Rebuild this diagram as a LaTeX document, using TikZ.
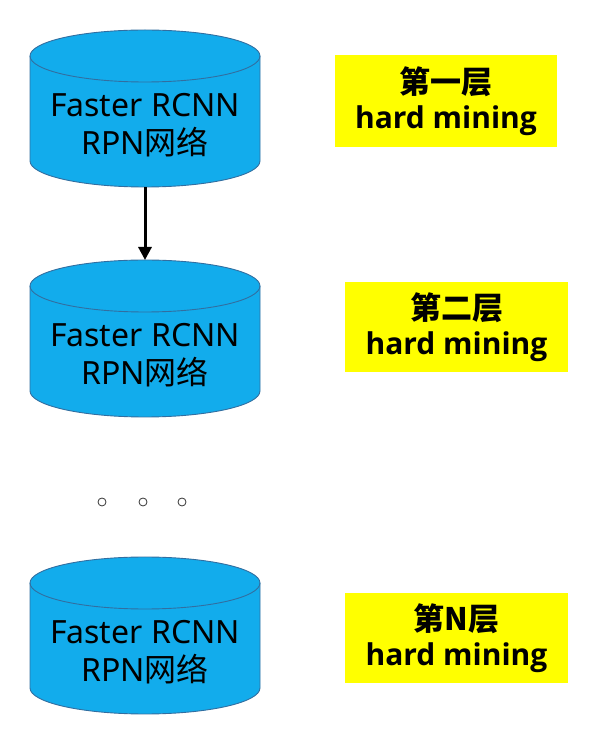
\documentclass[tikz,border=0pt]{standalone}
\usepackage{fontspec}
\setmainfont{Noto Sans}
\newfontfamily\cjk{Noto Sans CJK SC}
\newfontfamily\boldlat{Open Sans}
\usetikzlibrary{arrows.meta}
\definecolor{cylblue}{RGB}{18,172,236}
\definecolor{cyledgec}{RGB}{50,110,160}
\definecolor{hlyellow}{RGB}{255,255,0}
\tikzset{
  cylfill/.style={fill=cylblue,draw=cyledgec,line width=0.9pt},
  cylpic/.pic={
    \path[cylfill] (-115,-26) -- (-115,-131)
      arc[start angle=180,end angle=360,x radius=115,y radius=26]
      -- (115,-26)
      arc[start angle=0,end angle=180,x radius=115,y radius=26] -- cycle;
    \draw[cyledgec,line width=0.9pt] (-115,-26)
      arc[start angle=180,end angle=360,x radius=115,y radius=26];
  },
  cylbox/.style={minimum width=230pt,minimum height=157pt,inner sep=0pt,anchor=north},
  cyltext/.style={align=center,inner sep=0pt,font=\fontsize{32}{38}\selectfont},
  layerbox/.style={fill=hlyellow,inner sep=0pt,align=center,
    font=\boldlat\bfseries\fontsize{30}{35}\selectfont},
  dot/.style={circle,draw=black!80,line width=0.8pt,minimum size=8pt,inner sep=0pt},
  flow/.style={line width=3pt,-{Triangle[length=13pt,width=13pt]}}
}
\begin{document}
\begin{tikzpicture}[x=1pt,y=1pt]
\useasboundingbox (0,0) rectangle (600,732);
% cylinders
\pic at (145,702) {cylpic};
\node[cylbox] (c1) at (145,702) {};
\node[cyltext] (t1) at (145,607) {Faster RCNN\\RPN{\cjk 网络}};
\pic at (145,472) {cylpic};
\node[cylbox] (c2) at (145,472) {};
\node[cyltext] (t2) at (145,377) {Faster RCNN\\RPN{\cjk 网络}};
\pic at (145,175) {cylpic};
\node[cylbox] (c3) at (145,175) {};
\node[cyltext] (t3) at (145,80) {Faster RCNN\\RPN{\cjk 网络}};
% arrow
\draw[flow] (c1.south) -- (c2.north);
% dots
\node[dot] (d1) at (102,230) {};
\node[dot] (d2) at (143,230) {};
\node[dot] (d3) at (182,230) {};
% yellow boxes
\node[layerbox,minimum width=222pt,minimum height=92pt] (b1) at (446,631)
  {{\cjk\bfseries\fontsize{31}{36}\selectfont 第一层}\\hard mining};
\node[layerbox,minimum width=223pt,minimum height=90pt] (b2) at (456.5,405)
  {{\cjk\bfseries\fontsize{31}{36}\selectfont 第二层}\\hard mining};
\node[layerbox,minimum width=223pt,minimum height=90pt] (b3) at (456.5,94)
  {{\cjk\bfseries\fontsize{31}{36}\selectfont 第N层}\\hard mining};
\end{tikzpicture}
\end{document}
